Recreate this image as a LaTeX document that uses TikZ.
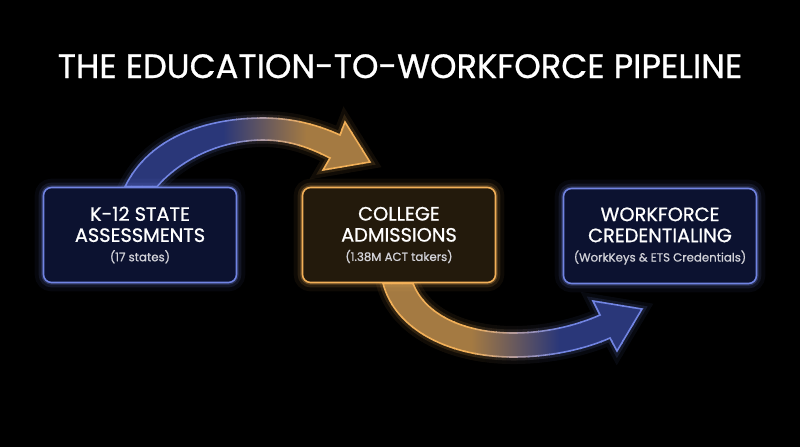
\documentclass[tikz,border=0pt]{standalone}
\usepackage{fontspec}
\setmainfont{Poppins}
\newfontfamily\heavyfont[FakeBold=0.8]{Poppins}
\usetikzlibrary{calc,backgrounds}
\definecolor{nightblue}{HTML}{0C1230}
\definecolor{edgeblue}{HTML}{7184E2}
\definecolor{nightgold}{HTML}{231A0C}
\definecolor{edgegold}{HTML}{F2B058}
\definecolor{bandblue}{HTML}{2A3779}
\definecolor{bandgold}{HTML}{A47A42}
\definecolor{softgray}{HTML}{D2D2D8}

\pgfdeclarehorizontalshading{bluegold}{100bp}{color(0bp)=(bandblue); color(45bp)=(bandblue); color(62bp)=(bandgold); color(100bp)=(bandgold)}
\pgfdeclarehorizontalshading{goldblue}{100bp}{color(0bp)=(bandgold); color(42bp)=(bandgold); color(59bp)=(bandblue); color(100bp)=(bandblue)}

\tikzset{
  stage/.style={rectangle, rounded corners=0.16cm, minimum width=3.86cm, minimum height=1.9cm,
    align=center, text=white, font=\heavyfont\fontsize{11}{12}\selectfont, line width=0.9pt},
  blueglow/.style={draw=edgeblue, fill=nightblue,
    preaction={draw=edgeblue, line width=10pt, opacity=.06},
    preaction={draw=edgeblue, line width=5.5pt, opacity=.12},
    preaction={draw=edgeblue, line width=2.5pt, opacity=.25}},
  goldglow/.style={draw=edgegold, fill=nightgold,
    preaction={draw=edgegold, line width=10pt, opacity=.06},
    preaction={draw=edgegold, line width=5.5pt, opacity=.12},
    preaction={draw=edgegold, line width=2.5pt, opacity=.25}},
  heading/.style={text=white, font=\heavyfont\fontsize{19.2}{22}\selectfont}
}
\newcommand{\subline}{\fontsize{6.7}{9}\selectfont\color{softgray}}
\newcommand{\bandone}{($(k12.north)+(-15,0)$) .. controls (150,135) and (210,118) .. (263,118)
  .. controls (295,118) and (320,126) .. (340,135) -- (345,122) -- (370,162) -- (323,170) -- (330,158)
  .. controls (310,148) and (290,140) .. (263,140) .. controls (220,140) and (180,160) .. ($(k12.north)+(17,0)$) -- cycle}
\newcommand{\bandtwo}{($(college.south)+(-16,0)$) .. controls (395,330) and (450,357) .. (513,357)
  .. controls (555,357) and (590,347) .. (610,338) -- (617,351) -- (642,309) -- (593,301) -- (600,315)
  .. controls (575,326) and (545,333) .. (513,333) .. controls (465,333) and (425,315) .. ($(college.south)+(14,0)$) -- cycle}

\begin{document}
\begin{tikzpicture}[x=0.02cm, y=-0.02cm]
  \useasboundingbox (0,0) rectangle (800,447);

  \node[heading, anchor=base] (title) at (400,78) {THE EDUCATION-TO-WORKFORCE PIPELINE};

  \node[stage, blueglow] (k12) at (140,235) {K-12 STATE\\ASSESSMENTS\\[-1pt]{\subline (17 states)}};
  \node[stage, goldglow] (college) at (399,235) {COLLEGE\\ADMISSIONS\\[-1pt]{\subline (1.38M ACT takers)}};
  \node[stage, blueglow] (work) at (660,236) {WORKFORCE\\CREDENTIALING\\[-1pt]{\subline (WorkKeys \& ETS Credentials)}};

  \begin{scope}[on background layer]
    \fill[black] (0,0) rectangle (800,447);
    % blue to gold band
    \foreach \k in {0,...,25}{
      \pgfmathsetmacro\xa{110+\k*10.5}
      \pgfmathtruncatemacro\p{max(0,min(100,(\xa+5-225)/0.8))}
      \begin{scope}
        \clip (\xa,80) rectangle ({\xa+10.5},215);
        \draw[edgegold!\p!edgeblue, line width=8pt, opacity=.07] \bandone;
        \draw[edgegold!\p!edgeblue, line width=4pt, opacity=.14] \bandone;
      \end{scope}
    }
    \shade[shading=bluegold] \bandone;
    \foreach \k in {0,...,25}{
      \pgfmathsetmacro\xa{110+\k*10.5}
      \pgfmathtruncatemacro\p{max(0,min(100,(\xa+5-225)/0.8))}
      \begin{scope}
        \clip (\xa,80) rectangle ({\xa+11.5},215);
        \draw[edgegold!\p!edgeblue, line width=0.9pt] \bandone;
      \end{scope}
    }
    % gold to blue band
    \foreach \k in {0,...,26}{
      \pgfmathsetmacro\xa{370+\k*10.5}
      \pgfmathtruncatemacro\p{max(0,min(100,100-(\xa+5-470)/0.9))}
      \begin{scope}
        \clip (\xa,270) rectangle ({\xa+10.5},380);
        \draw[edgegold!\p!edgeblue, line width=8pt, opacity=.07] \bandtwo;
        \draw[edgegold!\p!edgeblue, line width=4pt, opacity=.14] \bandtwo;
      \end{scope}
    }
    \shade[shading=goldblue] \bandtwo;
    \foreach \k in {0,...,26}{
      \pgfmathsetmacro\xa{370+\k*10.5}
      \pgfmathtruncatemacro\p{max(0,min(100,100-(\xa+5-470)/0.9))}
      \begin{scope}
        \clip (\xa,270) rectangle ({\xa+11.5},380);
        \draw[edgegold!\p!edgeblue, line width=0.9pt] \bandtwo;
      \end{scope}
    }
  \end{scope}
\end{tikzpicture}
\end{document}
